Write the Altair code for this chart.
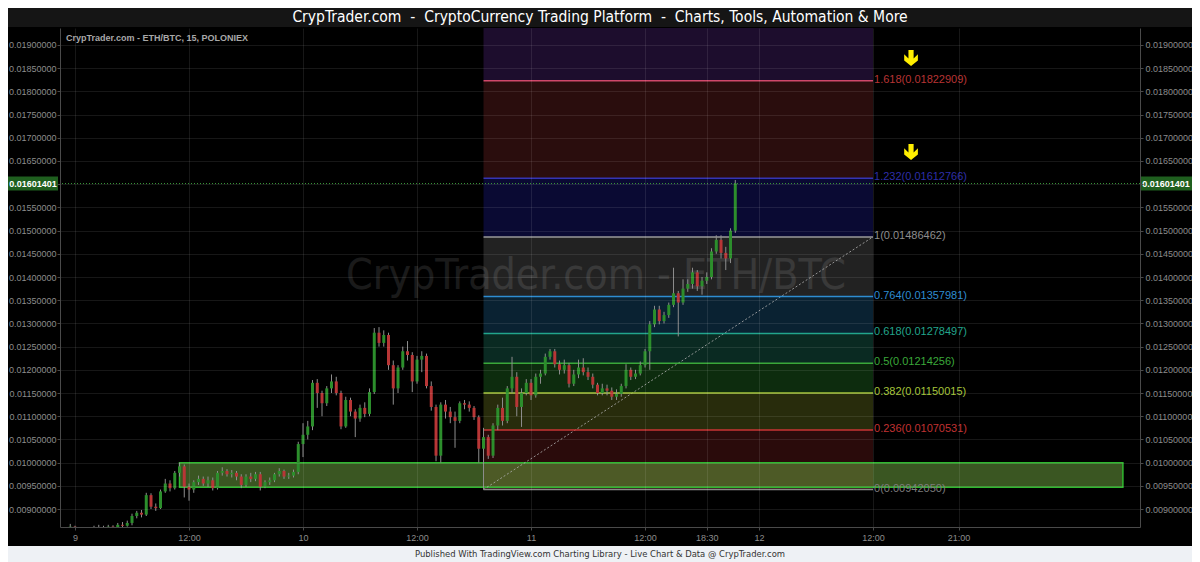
import altair as alt
import pandas as pd

# ---------------- data (prices in units of 1e-5 BTC) ----------------
PRICE_UNIT = 1e-5
opens = [858, 862, 856, 852, 855, 853, 858, 860, 857, 862, 860, 866, 864, 870, 885, 892, 888, 930, 905, 902,
         938, 955, 945, 978, 992, 948, 942, 958, 965, 955, 962, 945, 978, 982, 975, 978, 970, 952, 970, 965,
         975, 948, 958, 962, 975, 982, 970, 972, 980, 1040, 1060, 1078, 1172, 1150, 1128, 1160, 1175, 1150, 1078, 1135,
         1110, 1095, 1118, 1105, 1152, 1280, 1258, 1275, 1210, 1160, 1205, 1240, 1232, 1175, 1222, 1230, 1165, 1120, 1015, 1125,
         1110, 1098, 1090, 1128, 1125, 1118, 1098, 1030, 1055, 1015, 1080, 1118, 1090, 1160, 1185, 1120, 1150, 1172, 1145, 1185,
         1192, 1228, 1240, 1212, 1200, 1210, 1170, 1190, 1205, 1195, 1185, 1168, 1150, 1160, 1155, 1142, 1148, 1165, 1200, 1185,
         1192, 1210, 1240, 1298, 1330, 1305, 1318, 1340, 1365, 1345, 1375, 1385, 1410, 1380, 1392, 1400, 1455, 1480, 1452, 1440,
         1500]
closes = [862, 856, 852, 855, 853, 858, 860, 857, 862, 860, 866, 864, 870, 885, 892, 888, 930, 905, 902, 938,
          955, 945, 978, 992, 948, 942, 958, 965, 955, 962, 945, 978, 982, 975, 978, 970, 952, 970, 965, 975,
          948, 958, 962, 975, 982, 970, 972, 980, 1040, 1060, 1078, 1172, 1150, 1128, 1160, 1175, 1150, 1078, 1135, 1110,
          1095, 1118, 1105, 1152, 1280, 1258, 1275, 1210, 1160, 1205, 1240, 1232, 1175, 1222, 1230, 1165, 1120, 1015, 1125, 1110,
          1098, 1090, 1128, 1125, 1118, 1098, 1030, 1055, 1015, 1080, 1118, 1090, 1160, 1185, 1120, 1150, 1172, 1145, 1185, 1192,
          1228, 1240, 1212, 1200, 1210, 1170, 1190, 1205, 1195, 1185, 1168, 1150, 1160, 1155, 1142, 1148, 1165, 1200, 1185, 1192,
          1210, 1240, 1298, 1330, 1305, 1318, 1340, 1365, 1345, 1375, 1385, 1410, 1380, 1392, 1400, 1455, 1480, 1452, 1440, 1500,
          1601.401]
highs = [868, 864, 858, 858, 860, 864, 866, 864, 866, 865, 870, 872, 875, 890, 896, 898, 935, 934, 912, 942,
         965, 962, 982, 1000, 996, 955, 962, 972, 970, 970, 968, 982, 990, 986, 984, 982, 975, 975, 978, 980,
         980, 962, 968, 978, 988, 985, 978, 985, 1045, 1085, 1090, 1178, 1180, 1155, 1165, 1190, 1185, 1155, 1142, 1140,
         1115, 1125, 1130, 1160, 1290, 1292, 1285, 1280, 1220, 1210, 1250, 1262, 1238, 1230, 1240, 1235, 1175, 1125, 1130, 1135,
         1120, 1110, 1132, 1135, 1132, 1122, 1102, 1075, 1060, 1085, 1125, 1140, 1165, 1228, 1195, 1160, 1180, 1180, 1192, 1200,
         1235, 1245, 1245, 1220, 1222, 1215, 1200, 1222, 1225, 1205, 1192, 1172, 1170, 1168, 1162, 1158, 1170, 1212, 1205, 1200,
         1218, 1245, 1305, 1338, 1338, 1325, 1345, 1420, 1370, 1395, 1395, 1420, 1415, 1400, 1410, 1462, 1490, 1490, 1465, 1505,
         1609]
lows = [850, 850, 845, 848, 847, 850, 853, 852, 854, 855, 857, 860, 862, 865, 880, 882, 885, 900, 896, 900,
        935, 938, 942, 970, 925, 918, 935, 952, 950, 948, 940, 942, 972, 970, 968, 962, 945, 948, 958, 960,
        940, 945, 952, 958, 970, 965, 965, 968, 975, 1012, 1050, 1070, 1118, 1100, 1122, 1150, 1145, 1072, 1075, 1100,
        1055, 1088, 1098, 1100, 1148, 1250, 1250, 1200, 1125, 1150, 1200, 1220, 1152, 1170, 1195, 1160, 1112, 1003, 1000, 1095,
        1085, 1032, 1085, 1115, 1110, 1092, 1000, 942.05, 1008, 1010, 1070, 1080, 1085, 1150, 1100, 1077, 1145, 1135, 1140, 1170,
        1188, 1222, 1205, 1190, 1192, 1162, 1165, 1182, 1188, 1178, 1160, 1145, 1145, 1145, 1135, 1135, 1142, 1160, 1178, 1180,
        1188, 1205, 1200, 1292, 1298, 1300, 1312, 1335, 1272, 1340, 1368, 1375, 1370, 1362, 1385, 1395, 1450, 1440, 1415, 1430,
        1495]
# 30-minute candle times, hours after the 9th 00:00
hours = [-0.5 + 0.5 * i for i in range(len(closes))]

fib_ratios = ["0", "0.236", "0.382", "0.5", "0.618", "0.764", "1", "1.232", "1.618"]
fib_prices = [0.00942050, 0.01070531, 0.01150015, 0.01214256, 0.01278497,
              0.01357981, 0.01486462, 0.01612766, 0.01822909]
fib_top_price = 0.02367  # 2.618 level, beyond the view
fib_line_colors = ["#8a8a8a", "#c83434", "#a6c43a", "#3aa83a", "#22a58c", "#2e8cd0", "#9a9a9a", "#3434b4", "#d0486a"]
fib_text_colors = ["#7c7c7c", "#c03232", "#a6c43a", "#3aa83a", "#22a58c", "#2e8cd0", "#8c8c8c", "#2e2ea8", "#b83434"]
fib_band_colors = ["#2a0b0b", "#282c0c", "#0d2c0e", "#0a2a22", "#0a2232", "#222222", "#0a0a33", "#2a0d0d", "#1d0d2d"]
fib_start_h, fib_end_h = 43.0, 84.0

zone_h = [11.0, 110.3]
zone_p = [0.00947, 0.01000]

last_price = 0.01601401

x_tick_vals = [0, 12, 24, 36, 48, 60, 66.5, 72, 84, 93]
x_tick_text = ["9", "12:00", "10", "12:00", "11", "12:00", "18:30", "12", "12:00", "21:00"]
y_tick_vals = [0.0090, 0.0095, 0.0100, 0.0105, 0.0110, 0.0115, 0.0120, 0.0125, 0.0130, 0.0135, 0.0140,
               0.0145, 0.0150, 0.0155, 0.0160, 0.0165, 0.0170, 0.0175, 0.0180, 0.0185, 0.0190]

arrow_h = [88.0, 88.0]
arrow_p = [0.01872, 0.016694]

title_text = "CrypTrader.com\u00a0\u00a0-\u00a0\u00a0CryptoCurrency Trading Platform\u00a0\u00a0-\u00a0\u00a0Charts, Tools, Automation & More"
footer_text = "Published With TradingView.com Charting Library - Live Chart & Data @ CrypTrader.com"
header_text = "CrypTrader.com - ETH/BTC, 15, POLONIEX"
watermark_text = "CrypTrader.com - ETH/BTC"

# ---------------- layout ----------------
W, H = 1080, 499
X_DOMAIN = [-1.579, 112.1]
Y_DOMAIN = [0.008613, 0.019366]
NARROW = "Liberation Sans Narrow, Arial Narrow, DejaVu Sans Condensed, sans-serif"
SANS = "Liberation Sans, Arial, sans-serif"

xs = alt.Scale(domain=X_DOMAIN, nice=False, zero=False)
ys = alt.Scale(domain=Y_DOMAIN, nice=False, zero=False)

candles = pd.DataFrame({
    "h": hours,
    "o": [v * PRICE_UNIT for v in opens],
    "c": [v * PRICE_UNIT for v in closes],
    "hi": [v * PRICE_UNIT for v in highs],
    "lo": [v * PRICE_UNIT for v in lows],
})
candles["col"] = ["#2c8e2c" if c >= o else "#b83636" for o, c in zip(candles.o, candles.c)]

band_top = fib_prices[1:] + [fib_top_price]
bands = pd.DataFrame({"h1": fib_start_h, "h2": fib_end_h, "p1": fib_prices, "p2": band_top, "col": fib_band_colors})
levels = pd.DataFrame({
    "h1": fib_start_h, "h2": fib_end_h, "p": fib_prices,
    "lc": fib_line_colors, "tc": fib_text_colors,
    "label": [f"{r}({p:.8f})" for r, p in zip(fib_ratios, fib_prices)],
})
trend = pd.DataFrame({"h": [fib_start_h, fib_end_h], "p": [fib_prices[0], fib_prices[6]]})
zone = pd.DataFrame({"h1": [zone_h[0]], "h2": [zone_h[1]], "p1": [zone_p[0]], "p2": [zone_p[1]]})
lastdf = pd.DataFrame({"p": [last_price], "t": [f"{last_price:.8f}"]})
arrows = pd.DataFrame({"h": arrow_h, "p": arrow_p})

lab_expr = " : ".join(f"datum.value == {v} ? '{t}'" for v, t in zip(x_tick_vals, x_tick_text)) + " : ''"

x_axis = alt.Axis(values=x_tick_vals, labelExpr=lab_expr, orient="bottom", grid=True, gridColor="#ffffff",
                  gridOpacity=0.09, domainColor="#4a4a4a", tickColor="#4a4a4a", tickSize=3, labelPadding=3,
                  labelColor="#8c8c8c", labelFont=SANS, labelFontSize=9, title=None, zindex=1)
y_axis_left = alt.Axis(values=y_tick_vals, orient="left", format=".8f",
                       labelExpr="abs(datum.value - 0.016) < 1e-9 ? '' : format(datum.value, '.8f')",
                       grid=True, gridColor="#ffffff", gridOpacity=0.09,
                       domainColor="#4a4a4a", tickColor="#4a4a4a", tickSize=3, labelPadding=1,
                       labelColor="#8c8c8c", labelFont=SANS, labelFontSize=9, title=None, zindex=1)
y_axis_right = alt.Axis(values=y_tick_vals, orient="right", format=".8f",
                        labelExpr="abs(datum.value - 0.016) < 1e-9 ? '' : format(datum.value, '.8f')",
                        grid=False, domainColor="#4a4a4a", tickColor="#4a4a4a", tickSize=3, labelPadding=2,
                        labelColor="#8c8c8c", labelFont=SANS, labelFontSize=9, title=None, zindex=1)

band_layer = alt.Chart(bands).mark_rect(clip=True).encode(
    x=alt.X("h1:Q", scale=xs, axis=x_axis), x2="h2:Q",
    y=alt.Y("p1:Q", scale=ys, axis=y_axis_left), y2="p2:Q",
    color=alt.Color("col:N", scale=None))

right_axis_layer = alt.Chart(lastdf).mark_point(opacity=0).encode(
    x=alt.X("p:Q", scale=xs, axis=None),
    y=alt.Y("p:Q", scale=ys, axis=y_axis_right))

zone_layer = alt.Chart(zone).mark_rect(clip=True, fill="#6a9c3e", fillOpacity=0.55, stroke="#2fb82f", strokeWidth=1.5).encode(
    x=alt.X("h1:Q", scale=xs, axis=None), x2="h2:Q",
    y=alt.Y("p1:Q", scale=ys, axis=None), y2="p2:Q")

wm = alt.Chart(pd.DataFrame({"t": [watermark_text]})).mark_text(
    font=NARROW, fontSize=42.5, color="#ffffff", opacity=0.1, align="center", baseline="middle").encode(
    text="t:N", x=alt.value(W / 2 - 4), y=alt.value(H / 2 - 2))

trend_layer = alt.Chart(trend).mark_line(color="#b0b0b0", strokeDash=[2, 2], strokeWidth=1, opacity=0.8).encode(
    x=alt.X("h:Q", scale=xs, axis=None), y=alt.Y("p:Q", scale=ys, axis=None))

level_lines = alt.Chart(levels).mark_rule(strokeWidth=1.5, clip=True).encode(
    x=alt.X("h1:Q", scale=xs, axis=None), x2="h2:Q",
    y=alt.Y("p:Q", scale=ys, axis=None), color=alt.Color("lc:N", scale=None))

level_text = alt.Chart(levels).mark_text(align="left", baseline="middle", dx=1, dy=-1,
                                         font=SANS, fontSize=11).encode(
    x=alt.X("h2:Q", scale=xs, axis=None), y=alt.Y("p:Q", scale=ys, axis=None),
    text="label:N", color=alt.Color("tc:N", scale=None))

wicks = alt.Chart(candles).mark_rule(color="#8e8e8e", strokeWidth=1, clip=True).encode(
    x=alt.X("h:Q", scale=xs, axis=None), y=alt.Y("lo:Q", scale=ys, axis=None), y2="hi:Q")

bodies = alt.Chart(candles).mark_rule(strokeWidth=3, clip=True, strokeCap="butt").encode(
    x=alt.X("h:Q", scale=xs, axis=None), y=alt.Y("o:Q", scale=ys, axis=None), y2="c:Q",
    color=alt.Color("col:N", scale=None))

price_line = alt.Chart(lastdf).mark_rule(color="#3a9a3a", strokeDash=[1, 2], strokeWidth=1).encode(
    y=alt.Y("p:Q", scale=ys, axis=None))

box_l = alt.Chart(lastdf).mark_rect(color="#1f5f1f", yOffset=-7, y2Offset=7).encode(
    x=alt.value(-52), x2=alt.value(-2), y=alt.Y("p:Q", scale=ys, axis=None), y2="p:Q")
box_r = alt.Chart(lastdf).mark_rect(color="#1f5f1f", yOffset=-7, y2Offset=7).encode(
    x=alt.value(W + 1), x2=alt.value(W + 52), y=alt.Y("p:Q", scale=ys, axis=None), y2="p:Q")
txt_l = alt.Chart(lastdf).mark_text(color="#ffffff", font=SANS, fontSize=9, fontWeight="bold", align="center",
                                    baseline="middle").encode(
    x=alt.value(-27), y=alt.Y("p:Q", scale=ys, axis=None), text="t:N")
txt_r = alt.Chart(lastdf).mark_text(color="#ffffff", font=SANS, fontSize=9, fontWeight="bold", align="center",
                                    baseline="middle").encode(
    x=alt.value(W + 26), y=alt.Y("p:Q", scale=ys, axis=None), text="t:N")

arrow_path = "M-0.32,-1 L0.32,-1 L0.32,0.05 L0.85,-0.45 L0.85,0.3 L0,1 L-0.85,0.3 L-0.85,-0.45 L-0.32,0.05 Z"
arrow_layer = alt.Chart(arrows).mark_point(shape=arrow_path, filled=True, color="#ffee00", opacity=1, size=260).encode(
    x=alt.X("h:Q", scale=xs, axis=None), y=alt.Y("p:Q", scale=ys, axis=None))

header = alt.Chart(pd.DataFrame({"t": [header_text]})).mark_text(
    font=SANS, fontSize=9, fontWeight="bold", color="#a8a8a8", align="left", baseline="middle").encode(
    text="t:N", x=alt.value(6), y=alt.value(10))

top_bar = alt.Chart(pd.DataFrame({"t": [title_text]})).mark_rect(color="#151515").encode(
    x=alt.value(-60), x2=alt.value(W + 70), y=alt.value(-30), y2=alt.value(-1))
title = alt.Chart(pd.DataFrame({"t": [title_text]})).mark_text(
    font=NARROW, fontSize=15.5, color="#ffffff", align="center", baseline="middle").encode(
    text="t:N", x=alt.value(540), y=alt.value(-11))

foot_bar = alt.Chart(pd.DataFrame({"t": [footer_text]})).mark_rect(color="#eef1f5").encode(
    x=alt.value(-60), x2=alt.value(W + 70), y=alt.value(H + 19), y2=alt.value(H + 40))
footer = alt.Chart(pd.DataFrame({"t": [footer_text]})).mark_text(
    font=NARROW, fontSize=9.4, color="#333333", align="center", baseline="middle").encode(
    text="t:N", x=alt.value(540), y=alt.value(H + 27))

chart = alt.layer(
    band_layer, right_axis_layer, zone_layer, wm, trend_layer, level_lines, level_text,
    wicks, bodies, price_line, box_l, box_r, txt_l, txt_r, arrow_layer, header,
    top_bar, title, foot_bar, footer,
).resolve_scale(y="shared", x="shared").resolve_axis(y="independent", x="independent").properties(
    width=W, height=H,
    background="#000000",
    autosize=alt.AutoSizeParams(type="none"),
    padding={"left": 52, "top": 20, "right": 52, "bottom": 35},
).configure_view(stroke=None)

chart.save("out.html", embed_options={"renderer": "svg", "actions": False})
